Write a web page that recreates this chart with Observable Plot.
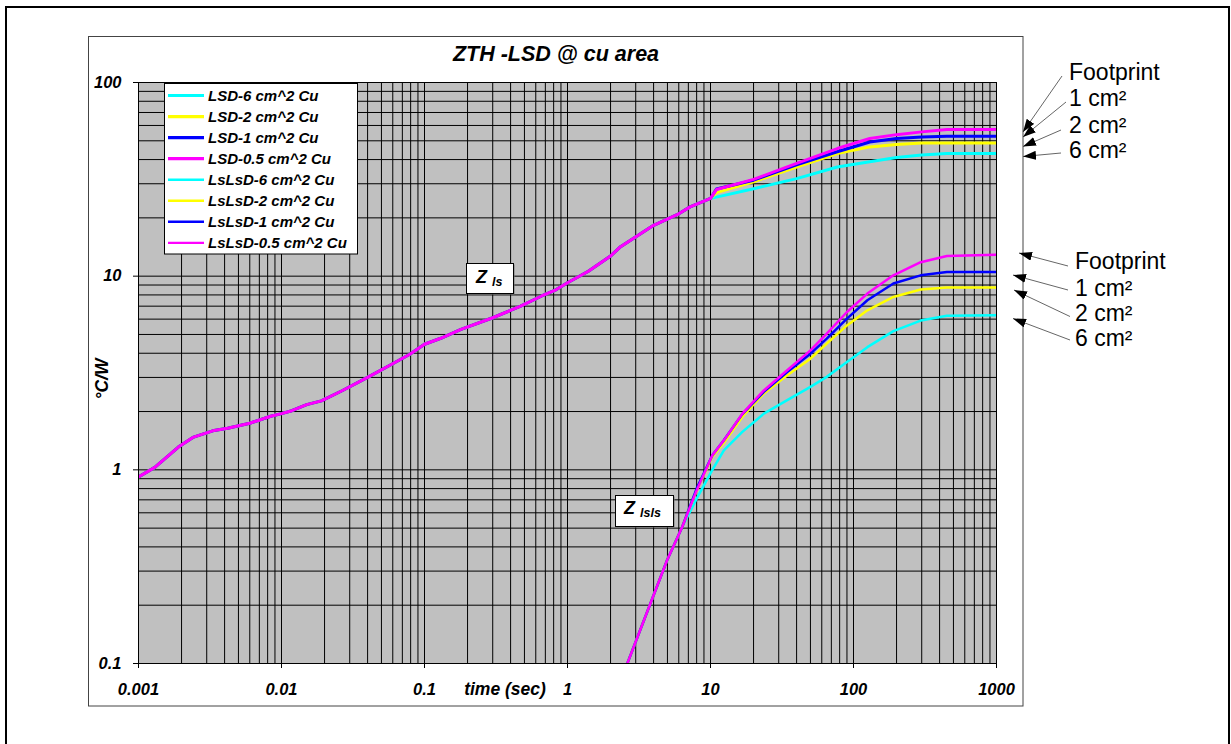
<!DOCTYPE html>
<html><head><meta charset="utf-8">
<script src="https://cdn.jsdelivr.net/npm/d3@7"></script>
<script src="https://cdn.jsdelivr.net/npm/@observablehq/plot@0.6"></script>
<style>
body{margin:0;background:#fff}
svg{display:block}
</style>
</head><body><div id="chart"></div>
<script>
// ---------- DATA ----------
const xMajorTicks = [0.001, 0.01, 0.1, 1, 10, 100, 1000];
const xTickLabels = ["0.001", "0.01", "0.1", "1", "10", "100", "1000"];
const yMajorTicks = [0.1, 1, 10, 100];
const yTickLabels = ["0.1", "1", "10", "100"];
const minorSteps = [2, 3, 4, 5, 6, 7, 8, 9];

// Z_ls (LSD) – shared part of the four curves
const zlsTime   = [0.001, 0.0013, 0.0019, 0.0024, 0.0033, 0.0042, 0.006, 0.0084, 0.01, 0.0118, 0.015, 0.019, 0.0265, 0.04, 0.059, 0.079, 0.1, 0.13, 0.18, 0.3, 0.47, 0.66, 0.83, 1.0, 1.4, 2.0, 2.35, 4.0, 6.0, 7.2, 10];
const zlsShared = [0.92, 1.03, 1.31, 1.47, 1.59, 1.64, 1.74, 1.89, 1.95, 2.02, 2.17, 2.27, 2.56, 3.0, 3.51, 3.95, 4.45, 4.78, 5.31, 6.1, 7.0, 7.9, 8.5, 9.25, 10.6, 12.7, 14.2, 18.3, 21.0, 22.8, 25.2];
// Z_ls tails (after the curves split)
const lsdTailTime = [11, 20, 40, 77, 130, 200, 300, 450, 1000];
const lsd6  = [25.6, 28.3, 31.9, 36.6, 39.0, 41.0, 42.2, 43.0, 43.0];
const lsd2  = [27.0, 30.7, 36.6, 43.0, 46.5, 47.9, 48.7, 48.7, 48.7];
const lsd1  = [28.2, 31.3, 37.6, 43.9, 49.3, 51.4, 52.3, 52.8, 52.8];
const lsd05 = [28.0, 31.6, 38.2, 45.6, 51.4, 53.8, 55.6, 57.2, 57.2];

// Z_lsls (LsLsD) – shared part
const lslsTime   = [2.62, 3.8, 4.97, 6.34];
const lslsShared = [0.1, 0.204, 0.341, 0.507];
const lslsTailTime = [8, 10.3, 12.4, 16.7, 23.6, 34.4, 50, 65, 90, 125, 190, 295, 450, 1000];
const lsls6  = [0.71, 1.0, 1.26, 1.57, 1.95, 2.29, 2.68, 3.02, 3.6, 4.3, 5.2, 5.9, 6.25, 6.28];
const lsls2  = [0.78, 1.17, 1.38, 1.88, 2.48, 3.08, 3.75, 4.48, 5.57, 6.66, 7.81, 8.53, 8.73, 8.73];
const lsls1  = [0.80, 1.19, 1.42, 1.94, 2.53, 3.20, 3.98, 4.76, 6.04, 7.51, 9.16, 10.1, 10.5, 10.5];
const lsls05 = [0.783, 1.19, 1.42, 1.95, 2.57, 3.27, 4.14, 5.05, 6.53, 8.13, 10.1, 11.8, 12.7, 12.9];

const seriesNames  = ["LSD-6 cm^2 Cu", "LSD-2 cm^2 Cu", "LSD-1 cm^2 Cu", "LSD-0.5 cm^2 Cu",
                      "LsLsD-6 cm^2 Cu", "LsLsD-2 cm^2 Cu", "LsLsD-1 cm^2 Cu", "LsLsD-0.5 cm^2 Cu"];
const seriesColors = ["#00FFFF", "#FFFF00", "#0000FF", "#FF00FF",
                      "#00FFFF", "#FFFF00", "#0000FF", "#FF00FF"];

const titleText = "ZTH -LSD @ cu area";
const xTitle = "time (sec)";
const yTitle = "°C/W";
const footprintLabels = ["Footprint", "1 cm²", "2 cm²", "6 cm²"];

// ---------- BUILD ----------
const FONT = "'Liberation Sans', Arial, Helvetica, sans-serif";
function seriesRows(tS, vS, tT, vT) {
  const r = tS.map((t, i) => ({t, v: vS[i]}));
  tT.forEach((t, i) => r.push({t, v: vT[i]}));
  return r;
}
const upper = [lsd6, lsd2, lsd1, lsd05].map(v => seriesRows(zlsTime, zlsShared, lsdTailTime, v));
const lower = [lsls6, lsls2, lsls1, lsls05].map(v => seriesRows(lslsTime, lslsShared, lslsTailTime, v));

const xGrid = [];
xMajorTicks.forEach((d, i) => { xGrid.push(d); if (i < xMajorTicks.length - 1) minorSteps.forEach(m => xGrid.push(+(d * m).toPrecision(6))); });
const yGrid = [];
yMajorTicks.forEach((d, i) => { yGrid.push(d); if (i < yMajorTicks.length - 1) minorSteps.forEach(m => yGrid.push(+(d * m).toPrecision(6))); });

const textOpts = {fontFamily: FONT, fontWeight: "bold", fontStyle: "italic", fontSize: 16.5, fill: "#000"};

const chart = Plot.plot({
  width: 1231,
  height: 744,
  marginLeft: 138,
  marginRight: 235,
  marginTop: 82,
  marginBottom: 81,
  style: {background: "#fff", fontFamily: FONT, color: "#000"},
  x: {type: "log", domain: [0.001, 1000]},
  y: {type: "log", domain: [0.1, 100]},
  marks: [
    Plot.frame({fill: "#C0C0C0", stroke: "#808080"}),
    Plot.gridX(xGrid, {stroke: "#000", strokeOpacity: 1, strokeWidth: 1}),
    Plot.gridY(yGrid, {stroke: "#000", strokeOpacity: 1, strokeWidth: 1}),
    ...upper.map((d, i) => Plot.line(d, {x: "t", y: "v", stroke: seriesColors[i], strokeWidth: 3, clip: true})),
    ...lower.map((d, i) => Plot.line(d, {x: "t", y: "v", stroke: seriesColors[i + 4], strokeWidth: 2.5, clip: true})),
    Plot.ruleX([0.001], {stroke: "#000", strokeWidth: 1}),
    Plot.ruleY([0.1], {stroke: "#000", strokeWidth: 1}),
    Plot.axisX(xMajorTicks, {tickSize: 5, tickPadding: 15, label: null,
      tickFormat: d => xTickLabels[xMajorTicks.indexOf(d)], ...textOpts}),
    Plot.axisY(yMajorTicks, {tickSize: 5, tickPadding: 12, label: null,
      tickFormat: d => yTickLabels[yMajorTicks.indexOf(d)], ...textOpts})
  ]
});
document.getElementById("chart").appendChild(chart);

// ---------- DECORATION (layout only) ----------
const svg = d3.select(chart);
const deco = svg.append("g").attr("text-anchor", "start");

function txt(g, xPos, yPos, s, size, opts = {}) {
  return g.append("text").attr("x", xPos).attr("y", yPos)
    .attr("text-anchor", opts.anchor || "start")
    .attr("font-family", FONT)
    .attr("font-weight", opts.normal ? "normal" : "bold")
    .attr("font-style", opts.normal ? "normal" : "italic")
    .attr("font-size", size).attr("fill", "#000").text(s);
}

// outer document frame
deco.append("path").attr("d", "M6,760 V7 H1229 V760").attr("fill", "none").attr("stroke", "#000").attr("stroke-width", 2);
// chart area
deco.append("rect").attr("x", 88.5).attr("y", 36.5).attr("width", 934.5).attr("height", 669.5)
  .attr("fill", "none").attr("stroke", "#444").attr("stroke-width", 1);

// title and axis titles
txt(deco, 556, 61, titleText, 21.5, {anchor: "middle"});
txt(deco, 505, 694.5, xTitle, 17.5, {anchor: "middle"});
txt(deco, 0, 0, yTitle, 17.5, {anchor: "middle"}).attr("transform", "translate(108,379) rotate(-90)");

// legend
const lg = deco.append("g");
lg.append("rect").attr("x", 164.5).attr("y", 83.5).attr("width", 193).attr("height", 170.5)
  .attr("fill", "#fff").attr("stroke", "#000").attr("stroke-width", 1);
seriesNames.forEach((name, i) => {
  const cy = 95.5 + i * 21.05;
  lg.append("line").attr("x1", 168).attr("x2", 204).attr("y1", cy).attr("y2", cy)
    .attr("stroke", seriesColors[i]).attr("stroke-width", i < 4 ? 3.2 : 2.4);
  txt(lg, 208, cy + 5.2, name, 15);
});

// Z labels
function zLabel(bx, by, bw, bh, tx, ty, sub) {
  const g = deco.append("g");
  g.append("rect").attr("x", bx + 1.5).attr("y", by + 1.5).attr("width", bw).attr("height", bh).attr("fill", "#777");
  g.append("rect").attr("x", bx + 0.5).attr("y", by + 0.5).attr("width", bw).attr("height", bh)
    .attr("fill", "#fff").attr("stroke", "#000").attr("stroke-width", 1);
  const t = txt(g, tx, ty, null, 18);
  t.append("tspan").text("Z ");
  t.append("tspan").attr("font-size", 12.5).attr("dy", 3).text(sub);
}
zLabel(466, 263, 47, 30, 476, 283, "ls");
zLabel(615, 495, 58, 31, 624, 514, "lsls");

// footprint annotations
deco.append("defs").html('<marker id="ah" viewBox="0 0 13 9" refX="13" refY="4.5" markerWidth="13" markerHeight="9" markerUnits="userSpaceOnUse" orient="auto"><path d="M0,0 L13,4.5 L0,9 z" fill="#000"/></marker>');
const annUpper = [
  {tx: 1069, ty: 71.5, x1: 1062, y1: 76, x2: 1023, y2: 132},
  {tx: 1069, ty: 98, x1: 1066, y1: 102, x2: 1023, y2: 137},
  {tx: 1069, ty: 124.5, x1: 1061, y1: 130, x2: 1023, y2: 146.5},
  {tx: 1069, ty: 150, x1: 1061, y1: 153, x2: 1023, y2: 156.5}
];
const annLower = [
  {tx: 1075, ty: 260.5, x1: 1068, y1: 266, x2: 1019, y2: 253},
  {tx: 1075, ty: 288, x1: 1068, y1: 290, x2: 1013, y2: 275},
  {tx: 1075, ty: 312.5, x1: 1070, y1: 316.5, x2: 1014, y2: 290},
  {tx: 1075, ty: 337.5, x1: 1070, y1: 340, x2: 1013, y2: 318.5}
];
[annUpper, annLower].forEach(group => group.forEach((a, i) => {
  deco.append("line").attr("x1", a.x1).attr("y1", a.y1).attr("x2", a.x2).attr("y2", a.y2)
    .attr("stroke", "#666").attr("stroke-width", 1).attr("marker-end", "url(#ah)");
  txt(deco, a.tx, a.ty + 8, footprintLabels[i], 23, {normal: true});
}));
</script></body></html>
